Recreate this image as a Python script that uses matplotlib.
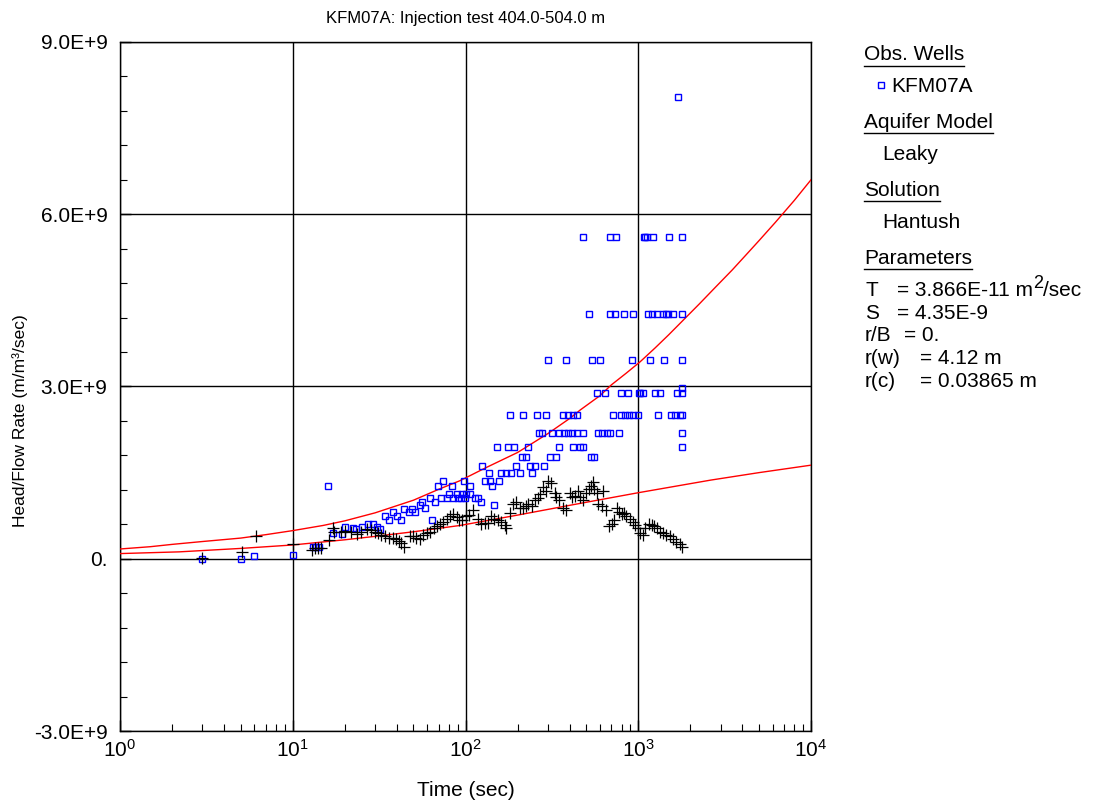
import matplotlib
matplotlib.use('Agg')
import numpy as np
import matplotlib.pyplot as plt
from matplotlib.ticker import MultipleLocator, LogLocator, NullFormatter
from matplotlib.lines import Line2D

plt.rcParams['font.family'] = ['Liberation Sans', 'DejaVu Sans']
plt.rcParams['mathtext.fontset'] = 'custom'
plt.rcParams['mathtext.rm'] = 'Liberation Sans'
plt.rcParams['mathtext.it'] = 'Liberation Sans:italic'
plt.rcParams['mathtext.bf'] = 'Liberation Sans:bold'

# ---------------- data (values in units of 1e9) ----------------
title = "KFM07A: Injection test 404.0-504.0 m"
xlabel = "Time (sec)"
ylabel = "Head/Flow Rate (m/m³/sec)"
ytick_vals = [-3.0, 0.0, 3.0, 6.0, 9.0]
ytick_labels = ["-3.0E+9", "0.", "3.0E+9", "6.0E+9", "9.0E+9"]

obs_time = [3, 5, 6, 10, 13.1, 13.7, 14.2, 16, 17, 19.2, 20, 22.2, 23.1, 25.3, 27.3, 29.1,
            30.9, 31.9, 34.4, 36.3, 38.1, 40.2, 42.3, 44, 47.1, 49.3, 50.8, 54.5, 56.3, 58.4,
            62.6, 63.9, 66.4, 69.1, 72.2, 74.2, 77.7, 80.5, 83.9, 84.9, 89.8, 90.6, 94.8, 95.9,
            97.4, 99.2, 100.2, 105.5, 106.3, 112.9, 118.8, 122.6, 125, 129, 136, 138, 141.6,
            146.8, 153, 157, 160, 171, 176, 184, 192, 197, 206, 212, 224, 229, 237, 242, 251,
            283, 309, 335, 350, 417, 462, 482, 530, 556, 1790,
            # v = 2.19 row
            268, 276, 316, 350, 372, 391, 412, 444, 482, 581, 619, 655, 682, 777, 1790,
            # v = 2.50 row
            181, 216, 261, 293, 368, 392, 417, 444, 718, 797, 842, 885, 929, 991, 1300, 1553,
            1638, 1736, 1800,
            # v = 2.89 row
            576, 646, 794, 867, 1004, 1027, 1065, 1243, 1341, 1677, 1792, 1792,
            # v = 3.46 row
            302, 382, 543, 602, 919, 1163, 1402, 1792,
            # v = 4.26 row
            518, 682, 736, 830, 931, 1138, 1200, 1284, 1391, 1447, 1487, 1581, 1792,
            # v = 5.60 row
            482, 688, 746, 1073, 1100, 1123, 1210, 1512, 1790,
            # outlier
            1700]
obs_value = [0.0, 0.0, 0.04, 0.07, 0.21, 0.21, 0.21, 1.26, 0.44, 0.43, 0.55, 0.54, 0.51, 0.55, 0.61, 0.61,
             0.55, 0.52, 0.74, 0.68, 0.82, 0.74, 0.67, 0.86, 0.82, 0.86, 0.82, 0.93, 0.99, 0.89,
             1.05, 0.68, 0.99, 1.26, 1.05, 1.36, 1.05, 1.12, 1.26, 1.05, 1.12, 1.05, 1.05, 1.12,
             1.36, 1.05, 1.12, 1.26, 1.12, 1.05, 1.05, 0.99, 1.61, 1.36, 1.49, 1.36, 1.26,
             0.93, 1.95, 1.36, 1.49, 1.49, 1.95, 1.49, 1.95, 1.61, 1.49, 1.77, 1.77, 1.95, 1.61, 1.49, 1.61,
             1.61, 1.77, 1.77, 1.95, 1.95, 1.95, 1.95, 1.77, 1.77, 1.95,
             2.19, 2.19, 2.19, 2.19, 2.19, 2.19, 2.19, 2.19, 2.19, 2.19, 2.19, 2.19, 2.19, 2.19, 2.19,
             2.50, 2.50, 2.50, 2.50, 2.50, 2.50, 2.50, 2.50, 2.50, 2.50, 2.50, 2.50, 2.50, 2.50, 2.50, 2.50,
             2.50, 2.50, 2.50,
             2.89, 2.89, 2.89, 2.89, 2.89, 2.89, 2.89, 2.89, 2.89, 2.89, 2.89, 2.98,
             3.46, 3.46, 3.46, 3.46, 3.46, 3.46, 3.46, 3.46,
             4.26, 4.26, 4.26, 4.26, 4.26, 4.26, 4.26, 4.26, 4.26, 4.26, 4.26, 4.26, 4.26,
             5.60, 5.60, 5.60, 5.60, 5.60, 5.60, 5.60, 5.60, 5.60,
             8.04]

deriv_time = [3, 5.07, 6.1, 10, 13.0, 13.4, 14.0, 14.5, 16.2, 17.1, 17.4, 19.1, 20.0, 21.8, 23.4,
              25.0, 27.0, 28.5, 29.9, 31.2, 32.6, 34.4, 36.3, 38.1, 39.8, 41.2, 42.6, 44.2, 47.6,
              49.8, 51.6, 54.4, 56.9, 59.6, 62.6, 65.5, 68.2, 71.4, 74.3, 77.7, 81.4, 84.9, 89.0,
              91.9, 95.2, 100.4, 105, 110.6, 118.7, 123, 129, 135, 141, 147, 155, 161, 169, 172,
              181, 189, 196, 207, 214, 224, 231, 242, 253, 264, 270, 281, 292, 301, 311, 329, 336,
              349, 368, 381, 405, 415, 432, 448, 462, 478, 497, 516, 532, 544, 556, 580, 587, 618,
              622, 651, 673, 703, 726, 750, 776, 801, 829, 855, 895, 927, 957, 993, 1024, 1062,
              1098, 1147, 1200, 1238, 1284, 1329, 1390, 1453, 1518, 1589, 1661, 1736, 1799]
deriv_value = [0.01, 0.11, 0.39, 0.25, 0.16, 0.19, 0.18, 0.19, 0.33, 0.53, 0.46, 0.47, 0.48, 0.47, 0.43,
               0.47, 0.51, 0.50, 0.47, 0.45, 0.42, 0.39, 0.37, 0.37, 0.35, 0.31, 0.27, 0.21, 0.39,
               0.39, 0.37, 0.35, 0.41, 0.45, 0.47, 0.53, 0.57, 0.60, 0.64, 0.70, 0.74, 0.78, 0.73,
               0.68, 0.67, 0.74, 0.76, 0.85, 0.70, 0.61, 0.62, 0.62, 0.74, 0.70, 0.67, 0.64, 0.58, 0.53,
               0.79, 0.95, 0.99, 0.88, 0.89, 0.92, 0.95, 0.92, 1.03, 1.05, 1.12, 1.25, 1.18, 1.36, 1.32, 1.15, 1.07,
               1.02, 0.88, 0.85, 1.15, 1.08, 1.09, 1.18, 1.08, 1.03, 1.15, 1.21, 1.26, 1.34, 1.22, 1.14, 0.96, 0.92,
               1.18, 0.85, 0.57, 0.60, 0.67, 0.89, 0.82, 0.78, 0.79, 0.74, 0.70, 0.64, 0.58, 0.53, 0.44, 0.41,
               0.53, 0.60, 0.58, 0.57, 0.53, 0.47, 0.44, 0.41, 0.39, 0.35, 0.29, 0.25, 0.21]

model_time = [1, 1.5, 2, 3, 5, 7, 10, 15, 20, 30, 50, 70, 93, 130, 200, 300, 404, 461, 600, 700,
              850, 1025, 1250, 1500, 1800, 2260, 2800, 3500, 4200, 5000, 6224, 8000, 10000]
model_value = [0.17, 0.21, 0.25, 0.30, 0.36, 0.42, 0.49, 0.58, 0.66, 0.80, 1.02, 1.21, 1.36, 1.58,
               1.85, 2.18, 2.45, 2.59, 2.84, 3.03, 3.23, 3.43, 3.67, 3.90, 4.14, 4.44, 4.73, 5.03,
               5.29, 5.54, 5.86, 6.24, 6.60]

mderiv_time = [1, 2.2, 5, 10, 20, 30, 50, 93, 200, 400, 1000, 2630, 5000, 10000]
mderiv_value = [0.09, 0.12, 0.18, 0.24, 0.33, 0.39, 0.47, 0.58, 0.76, 0.93, 1.15, 1.37, 1.50, 1.63]

legend_items = ["Obs. Wells", "KFM07A", "Aquifer Model", "Leaky", "Solution", "Hantush", "Parameters"]
param_rows = [("T", "= 3.866E-11 m", "2", "/sec"), ("S", "= 4.35E-9", "", ""), ("r/B", "= 0.", "", ""),
              ("r(w)", "= 4.12 m", "", ""), ("r(c)", "= 0.03865 m", "", "")]

SCALE = 1e9
W, H = 1115, 805
fig = plt.figure(figsize=(W / 100, H / 100), dpi=100)
ax = fig.add_axes([120 / W, (H - 731) / H, 691 / W, 689 / H])

ax.set_xscale('log')
ax.set_xlim(1, 1e4)
ax.set_ylim(-3 * SCALE, 9 * SCALE)

ax.plot(model_time, np.array(model_value) * SCALE, color='red', lw=1.0, zorder=3)
ax.plot(mderiv_time, np.array(mderiv_value) * SCALE, color='red', lw=1.0, zorder=3)
ax.plot(obs_time, np.array(obs_value) * SCALE, ls='none', marker='s', ms=4.6, mfc='none',
        mec='#0000ff', mew=1.0, zorder=4)
ax.plot(deriv_time, np.array(deriv_value) * SCALE, ls='none', marker='+', ms=8, color='black',
        mew=0.9, zorder=4)

ax.set_yticks([v * SCALE for v in ytick_vals])
ax.set_yticklabels(ytick_labels)
ax.yaxis.set_minor_locator(MultipleLocator(0.6 * SCALE))
ax.xaxis.set_major_locator(LogLocator(base=10, numticks=10))
ax.xaxis.set_minor_locator(LogLocator(base=10, subs=np.arange(2, 10), numticks=20))
ax.xaxis.set_minor_formatter(NullFormatter())
ax.tick_params(which='both', direction='in', labelsize=15, top=False, right=False)
ax.tick_params(which='major', length=8, width=1)
ax.tick_params(which='minor', length=5, width=0.8)
ax.tick_params(axis='x', pad=6)
ax.tick_params(axis='y', pad=9)
ax.grid(which='major', color='black', lw=1.0)
for s in ax.spines.values():
    s.set_linewidth(1.0)

ax.set_title(title, fontsize=12, pad=14)
ax.set_xlabel(xlabel, fontsize=15, labelpad=14)


def fy(py):
    return 1 - py / H


def fx(px):
    return px / W


fig.text(fx(20), fy(421), ylabel, fontsize=12.5, rotation=90, ha='center', va='center')

# ---------------- legend panel ----------------
headings = {}
ys = [55, 86, 122, 154, 190, 222, 258]
for i, (txt, py) in enumerate(zip(legend_items, ys)):
    if i % 2 == 0:
        t = fig.text(fx(864), fy(py), txt, fontsize=15, va='center', ha='left')
        headings[txt] = t
    else:
        xoff = 882 if i != 1 else 891
        fig.text(fx(xoff), fy(py), txt, fontsize=15, va='center', ha='left')

fig.lines.append(Line2D([fx(881)], [fy(85)], marker='s', ms=4, mfc='none', mec='#0000ff',
                        mew=1.0, transform=fig.transFigure))

prow_y = [290, 313, 335, 358, 381]
value_x = {"T": 897, "S": 897, "r/B": 904, "r(w)": 920, "r(c)": 920}
fig.canvas.draw()
r = fig.canvas.get_renderer()
for (lab, val, sup, tail), py in zip(param_rows, prow_y):
    fig.text(fx(865), fy(py), lab, fontsize=15, va='center', ha='left')
    tv = fig.text(fx(value_x[lab]), fy(py), val, fontsize=15, va='center', ha='left')
    if sup:
        bb = tv.get_window_extent(r)
        ts = fig.text(bb.x1 / W, fy(py - 6), sup, fontsize=13, va='center', ha='left')
        bs = ts.get_window_extent(r)
        fig.text(bs.x1 / W, fy(py), tail, fontsize=15, va='center', ha='left')

fig.canvas.draw()
for txt, t in headings.items():
    bb = t.get_window_extent(r)
    yb = bb.y0 - 2
    fig.lines.append(Line2D([bb.x0 / W, bb.x1 / W], [yb / H, yb / H], color='black', lw=1.0,
                            transform=fig.transFigure))

fig.savefig('out.png', dpi=100)
